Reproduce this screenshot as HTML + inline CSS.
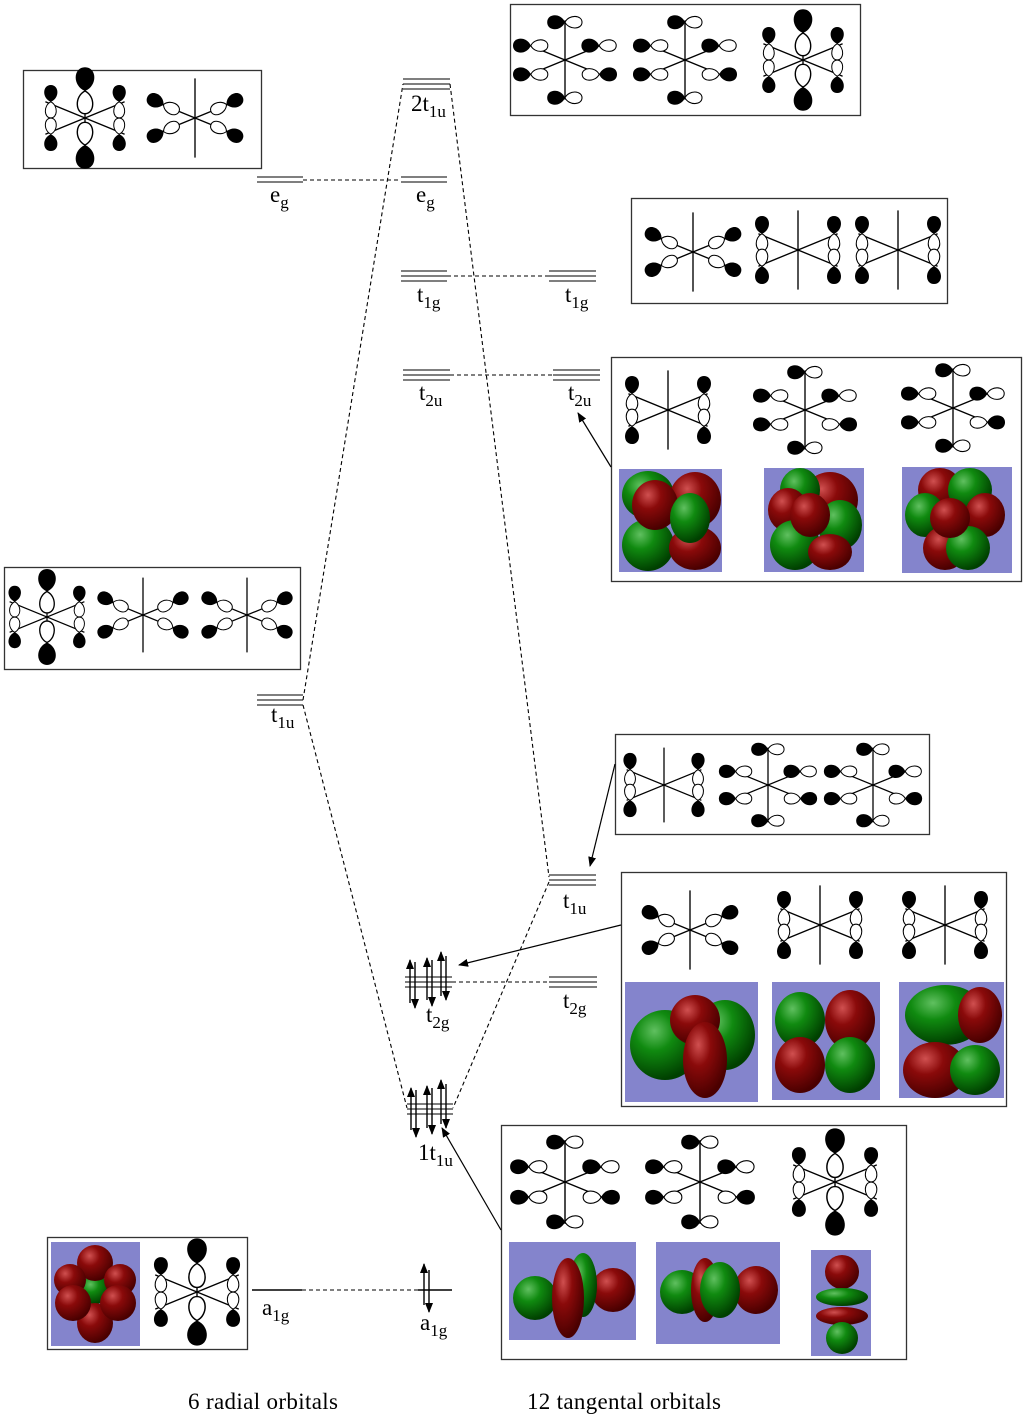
<!DOCTYPE html>
<html><head><meta charset="utf-8"><style>
html,body{margin:0;padding:0;background:#fff;}
svg{display:block;}
text{font-family:"Liberation Serif",serif;fill:#000;}
</style></head><body>
<svg width="1025" height="1419" viewBox="0 0 1025 1419" xmlns="http://www.w3.org/2000/svg">
<defs>
<marker id="ah" markerWidth="10" markerHeight="8" refX="9" refY="4" orient="auto" markerUnits="userSpaceOnUse"><path d="M0,0 L10,4 L0,8 Z" fill="#000"/></marker>
<g id="p"><path d="M0,0 C-12,-5 -11,-22 0,-22 C11,-22 12,-5 0,0 Z" fill="#000"/><path d="M0,0 C-10,5 -9,21 0,21 C9,21 10,5 0,0 Z" fill="#fff" stroke="#000" stroke-width="1.3"/></g>
<g id="sk" stroke="#000" stroke-width="1.5"><line x1="0" y1="-44" x2="0" y2="44"/><line x1="-44" y1="-18" x2="44" y2="18"/><line x1="-44" y1="18" x2="44" y2="-18"/></g>
<g id="A"><use href="#sk"/><use href="#p" transform="translate(-40,-18) scale(0.9)"/><use href="#p" transform="translate(-40,18) rotate(180) scale(0.9)"/><use href="#p" transform="translate(40,-18) scale(0.9)"/><use href="#p" transform="translate(40,18) rotate(180) scale(0.9)"/></g>
<g id="B"><use href="#sk"/><use href="#p" transform="translate(0,-42) rotate(-90) scale(0.9)"/><use href="#p" transform="translate(0,42) rotate(-90) scale(0.9)"/><use href="#p" transform="translate(-38,-16) rotate(-90) scale(0.9)"/><use href="#p" transform="translate(38,16) rotate(90) scale(0.9)"/><use href="#p" transform="translate(-38,16) rotate(-90) scale(0.9)"/><use href="#p" transform="translate(38,-16) rotate(-90) scale(0.9)"/></g>
<g id="C"><use href="#sk"/><use href="#p" transform="translate(0,-30) scale(1.2)"/><use href="#p" transform="translate(0,30) rotate(180) scale(1.2)"/><use href="#p" transform="translate(-38,-18) scale(0.85)"/><use href="#p" transform="translate(-38,18) rotate(180) scale(0.85)"/><use href="#p" transform="translate(38,-18) scale(0.85)"/><use href="#p" transform="translate(38,18) rotate(180) scale(0.85)"/></g>
<g id="D"><use href="#sk"/><use href="#p" transform="translate(-35,-15) rotate(-65) scale(0.9)"/><use href="#p" transform="translate(-35,15) rotate(-115) scale(0.9)"/><use href="#p" transform="translate(35,-15) rotate(65) scale(0.9)"/><use href="#p" transform="translate(35,15) rotate(115) scale(0.9)"/></g>
<radialGradient id="rg" cx="35%" cy="30%" r="70%"><stop offset="0" stop-color="#d05050"/><stop offset=".4" stop-color="#8a0a0a"/><stop offset="1" stop-color="#4a0000"/></radialGradient>
<radialGradient id="gg" cx="35%" cy="30%" r="70%"><stop offset="0" stop-color="#60c060"/><stop offset=".4" stop-color="#108a10"/><stop offset="1" stop-color="#004000"/></radialGradient>
</defs>

<g fill="none" stroke="#333" stroke-width="1.3">
<rect x="23.5" y="70.5" width="238" height="98"/>
<rect x="510.5" y="4.5" width="350" height="111"/>
<rect x="631.5" y="198.5" width="316" height="105"/>
<rect x="611.5" y="357.5" width="410" height="224"/>
<rect x="4.5" y="567.5" width="296" height="102"/>
<rect x="615.5" y="734.5" width="314" height="100"/>
<rect x="621.5" y="872.5" width="385" height="234"/>
<rect x="501.5" y="1125.5" width="405" height="234"/>
<rect x="47.5" y="1237.5" width="200" height="112"/>
</g>

<use href="#C" transform="translate(85,118) scale(0.9)"/>
<use href="#D" transform="translate(195,118) scale(0.9)"/>
<use href="#B" transform="translate(565,60) scale(0.9)"/>
<use href="#B" transform="translate(685,60) scale(0.9)"/>
<use href="#C" transform="translate(803,60) scale(0.9)"/>
<use href="#D" transform="translate(693,252) scale(0.9)"/>
<use href="#A" transform="translate(798,250) scale(0.9)"/>
<use href="#A" transform="translate(898,250) scale(0.9)"/>
<use href="#A" transform="translate(668,410) scale(0.9)"/>
<use href="#B" transform="translate(805,410) scale(0.9)"/>
<use href="#B" transform="translate(953,408) scale(0.9)"/>
<use href="#C" transform="translate(47,617) scale(0.85)"/>
<use href="#D" transform="translate(143,615) scale(0.85)"/>
<use href="#D" transform="translate(247,615) scale(0.85)"/>
<use href="#A" transform="translate(664,785) scale(0.85)"/>
<use href="#B" transform="translate(768,785) scale(0.85)"/>
<use href="#B" transform="translate(873,785) scale(0.85)"/>
<use href="#D" transform="translate(690,930) scale(0.9)"/>
<use href="#A" transform="translate(820,925) scale(0.9)"/>
<use href="#A" transform="translate(945,925) scale(0.9)"/>
<use href="#B" transform="translate(565,1182) scale(0.95)"/>
<use href="#B" transform="translate(700,1182) scale(0.95)"/>
<use href="#C" transform="translate(835,1182) scale(0.95)"/>
<use href="#C" transform="translate(197,1292) scale(0.95)"/>

<g>
<rect x="619" y="469" width="103" height="103" fill="#8484cc"/>
<ellipse cx="648" cy="495" rx="26" ry="24" fill="url(#gg)"/><ellipse cx="695" cy="500" rx="26" ry="28" fill="url(#rg)"/>
<ellipse cx="648" cy="545" rx="26" ry="26" fill="url(#gg)"/><ellipse cx="695" cy="548" rx="26" ry="22" fill="url(#rg)"/>
<ellipse cx="655" cy="505" rx="23" ry="25" fill="url(#rg)"/><ellipse cx="690" cy="518" rx="20" ry="25" fill="url(#gg)"/>

<rect x="764" y="468" width="100" height="104" fill="#8484cc"/>
<ellipse cx="830" cy="500" rx="28" ry="28" fill="url(#rg)"/><ellipse cx="800" cy="490" rx="20" ry="22" fill="url(#gg)"/>
<ellipse cx="788" cy="510" rx="20" ry="22" fill="url(#rg)"/><ellipse cx="840" cy="525" rx="22" ry="25" fill="url(#gg)"/>
<ellipse cx="795" cy="545" rx="25" ry="25" fill="url(#gg)"/><ellipse cx="830" cy="552" rx="22" ry="18" fill="url(#rg)"/>
<ellipse cx="810" cy="515" rx="20" ry="22" fill="url(#rg)"/>

<rect x="902" y="467" width="110" height="106" fill="#8484cc"/>
<ellipse cx="940" cy="490" rx="22" ry="22" fill="url(#rg)"/><ellipse cx="970" cy="490" rx="22" ry="22" fill="url(#gg)"/>
<ellipse cx="925" cy="515" rx="20" ry="22" fill="url(#gg)"/><ellipse cx="985" cy="515" rx="20" ry="22" fill="url(#rg)"/>
<ellipse cx="945" cy="548" rx="22" ry="22" fill="url(#rg)"/><ellipse cx="968" cy="548" rx="22" ry="22" fill="url(#gg)"/>
<ellipse cx="950" cy="518" rx="20" ry="20" fill="url(#rg)"/>

<rect x="625" y="982" width="133" height="120" fill="#8484cc"/>
<ellipse cx="665" cy="1045" rx="35" ry="35" fill="url(#gg)"/><ellipse cx="725" cy="1035" rx="30" ry="35" fill="url(#gg)"/>
<ellipse cx="695" cy="1020" rx="25" ry="25" fill="url(#rg)"/><ellipse cx="705" cy="1060" rx="22" ry="38" fill="url(#rg)"/>

<rect x="772" y="982" width="108" height="118" fill="#8484cc"/>
<ellipse cx="800" cy="1020" rx="25" ry="28" fill="url(#gg)"/><ellipse cx="850" cy="1020" rx="25" ry="30" fill="url(#rg)"/>
<ellipse cx="800" cy="1065" rx="25" ry="28" fill="url(#rg)"/><ellipse cx="850" cy="1065" rx="25" ry="28" fill="url(#gg)"/>

<rect x="899" y="982" width="105" height="116" fill="#8484cc"/>
<ellipse cx="945" cy="1015" rx="40" ry="30" fill="url(#gg)"/><ellipse cx="980" cy="1015" rx="22" ry="28" fill="url(#rg)"/>
<ellipse cx="935" cy="1070" rx="32" ry="28" fill="url(#rg)"/><ellipse cx="975" cy="1070" rx="25" ry="25" fill="url(#gg)"/>

<rect x="509" y="1242" width="127" height="98" fill="#8484cc"/>
<ellipse cx="535" cy="1298" rx="22" ry="22" fill="url(#gg)"/><ellipse cx="613" cy="1290" rx="22" ry="22" fill="url(#rg)"/>
<ellipse cx="583" cy="1285" rx="14" ry="32" fill="url(#gg)"/><ellipse cx="568" cy="1298" rx="16" ry="40" fill="url(#rg)"/>

<rect x="656" y="1242" width="124" height="102" fill="#8484cc"/>
<ellipse cx="682" cy="1292" rx="22" ry="22" fill="url(#gg)"/><ellipse cx="756" cy="1290" rx="22" ry="24" fill="url(#rg)"/>
<ellipse cx="705" cy="1290" rx="14" ry="32" fill="url(#rg)"/><ellipse cx="720" cy="1290" rx="20" ry="28" fill="url(#gg)"/>

<rect x="811" y="1250" width="60" height="106" fill="#8484cc"/>
<circle cx="842" cy="1272" r="17" fill="url(#rg)"/><ellipse cx="842" cy="1297" rx="26" ry="9" fill="url(#gg)"/>
<ellipse cx="842" cy="1316" rx="26" ry="9" fill="url(#rg)"/><circle cx="842" cy="1338" r="16" fill="url(#gg)"/>

<rect x="51" y="1242" width="89" height="104" fill="#8484cc"/>
<ellipse cx="95" cy="1290" rx="15" ry="14" fill="url(#gg)"/>
<ellipse cx="95" cy="1263" rx="18" ry="18" fill="url(#rg)"/><ellipse cx="95" cy="1323" rx="18" ry="20" fill="url(#rg)"/>
<ellipse cx="70" cy="1280" rx="16" ry="16" fill="url(#rg)"/><ellipse cx="120" cy="1280" rx="16" ry="16" fill="url(#rg)"/>
<ellipse cx="73" cy="1303" rx="18" ry="18" fill="url(#rg)"/><ellipse cx="118" cy="1303" rx="18" ry="18" fill="url(#rg)"/>
</g>

<g stroke="#555" stroke-width="1.6" fill="none">
<path d="M403,79H450M403,84H450M403,89H450"/>
<path d="M257,177H303M257,182H303"/>
<path d="M401,177H447M401,182H447"/>
<path d="M401,271H447M401,276H447M401,281H447"/>
<path d="M549,271H596M549,276H596M549,281H596"/>
<path d="M403,370H450M403,375H450M403,380H450"/>
<path d="M553,370H600M553,375H600M553,380H600"/>
<path d="M257,695H303M257,700H303M257,705H303"/>
<path d="M549,875H596M549,880H596M549,885H596"/>
<path d="M405,977H452M405,982H452M405,987H452"/>
<path d="M549,977H597M549,982H597M549,987H597"/>
<path d="M407,1104H453M407,1109H453M407,1114H453"/>
<path d="M252,1290H302M418,1290H452" stroke="#000"/>
</g>

<g stroke="#000" stroke-width="1.1" stroke-dasharray="4,3" fill="none">
<path d="M303,180H401M447,276H549M450,375H553M452,982H549M302,1290H418"/>
<path d="M303,700L403,84"/>
<path d="M303,705L407,1108"/>
<path d="M450,84L549,877"/>
<path d="M549,882L453,1108"/>
</g>

<g stroke="#000" stroke-width="1.4">
<line x1="410" y1="1003" x2="410" y2="960" marker-end="url(#ah)"/>
<line x1="415" y1="962" x2="415" y2="1008" marker-end="url(#ah)"/>
<line x1="427" y1="1000" x2="427" y2="958" marker-end="url(#ah)"/>
<line x1="432" y1="960" x2="432" y2="1006" marker-end="url(#ah)"/>
<line x1="441" y1="996" x2="441" y2="952" marker-end="url(#ah)"/>
<line x1="446" y1="956" x2="446" y2="1000" marker-end="url(#ah)"/>
<line x1="411" y1="1130" x2="411" y2="1088" marker-end="url(#ah)"/>
<line x1="416" y1="1090" x2="416" y2="1137" marker-end="url(#ah)"/>
<line x1="427" y1="1128" x2="427" y2="1086" marker-end="url(#ah)"/>
<line x1="432" y1="1088" x2="432" y2="1134" marker-end="url(#ah)"/>
<line x1="441" y1="1124" x2="441" y2="1080" marker-end="url(#ah)"/>
<line x1="446" y1="1084" x2="446" y2="1128" marker-end="url(#ah)"/>
<line x1="424" y1="1305" x2="424" y2="1264" marker-end="url(#ah)"/>
<line x1="429" y1="1270" x2="429" y2="1312" marker-end="url(#ah)"/>
</g>

<g stroke="#000" stroke-width="1.2" fill="none">
<line x1="611" y1="467" x2="578" y2="413" marker-end="url(#ah)"/>
<line x1="615" y1="764" x2="590" y2="866" marker-end="url(#ah)"/>
<line x1="621" y1="925" x2="459" y2="965" marker-end="url(#ah)"/>
<line x1="501" y1="1230" x2="442" y2="1128" marker-end="url(#ah)"/>
</g>

<g font-size="23">
<text x="411" y="111">2t<tspan dy="6" font-size="17">1u</tspan></text>
<text x="270" y="202">e<tspan dy="6" font-size="17">g</tspan></text>
<text x="416" y="202">e<tspan dy="6" font-size="17">g</tspan></text>
<text x="417" y="302">t<tspan dy="6" font-size="17">1g</tspan></text>
<text x="565" y="302">t<tspan dy="6" font-size="17">1g</tspan></text>
<text x="419" y="400">t<tspan dy="6" font-size="17">2u</tspan></text>
<text x="568" y="400">t<tspan dy="6" font-size="17">2u</tspan></text>
<text x="271" y="722">t<tspan dy="6" font-size="17">1u</tspan></text>
<text x="563" y="908">t<tspan dy="6" font-size="17">1u</tspan></text>
<text x="426" y="1022">t<tspan dy="6" font-size="17">2g</tspan></text>
<text x="563" y="1008">t<tspan dy="6" font-size="17">2g</tspan></text>
<text x="418" y="1160">1t<tspan dy="6" font-size="17">1u</tspan></text>
<text x="262" y="1315">a<tspan dy="6" font-size="17">1g</tspan></text>
<text x="420" y="1330">a<tspan dy="6" font-size="17">1g</tspan></text>
<text x="188" y="1409" textLength="150">6 radial orbitals</text>
<text x="527" y="1409" textLength="194">12 tangental orbitals</text>
</g>
</svg>
</body></html>
